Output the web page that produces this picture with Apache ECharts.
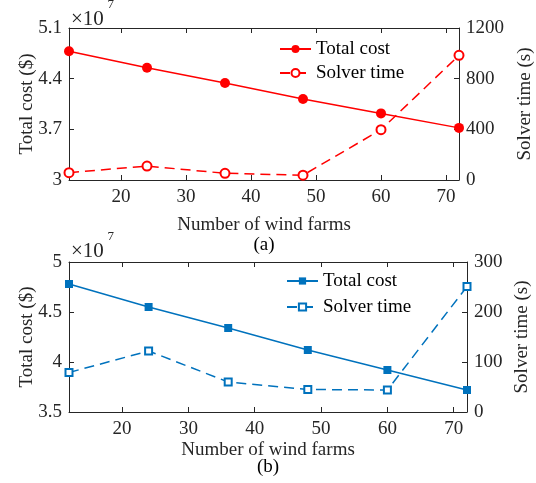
<!DOCTYPE html>
<html>
<head>
<meta charset="utf-8">
<script src="https://cdn.jsdelivr.net/npm/echarts@6/dist/echarts.min.js"></script>
<style>
html,body{margin:0;padding:0;background:#fff;}
.c{position:absolute;left:0;top:0;width:536px;height:483px;}
</style>
</head>
<body>
<div id="ca" class="c"></div>
<div id="cb" class="c"></div>
<script>
// ---- data ----
const windFarms = [12, 24, 36, 48, 60, 72];
const costA = [4.78, 4.55, 4.34, 4.12, 3.92, 3.72];      // x10^7 $
const solverA = [58, 110, 53, 38, 397, 984];             // s
const costB = [4.78, 4.55, 4.34, 4.12, 3.92, 3.72];      // x10^7 $
const solverB = [79, 122, 60, 45, 44, 251];              // s
const xTicks = [20, 30, 40, 50, 60, 70];
const yTicksCostA = [3, 3.7, 4.4, 5.1];
const yTicksTimeA = [0, 400, 800, 1200];
const yTicksCostB = [3.5, 4, 4.5, 5];
const yTicksTimeB = [0, 100, 200, 300];

const FONT = 'Liberation Serif';
const AX = '#262626';
const FS = 19;

function pairs(xs, ys) { return xs.map((x, i) => [x, ys[i]]); }
function fmt(v) { return String(+(+v).toFixed(2)); }

function xAxes(nameGap) {
  const base = {
    type: 'value', min: windFarms[0], max: windFarms[windFarms.length - 1],
    axisLine: { show: true, onZero: false, lineStyle: { color: AX, width: 1 } },
    axisTick: { show: true, inside: true, length: 5, customValues: xTicks, lineStyle: { color: AX } },
    splitLine: { show: false }
  };
  return [
    Object.assign({}, base, {
      position: 'bottom',
      axisLabel: { customValues: xTicks, color: AX, fontFamily: FONT, fontSize: FS, margin: 8, formatter: fmt },
      name: 'Number of wind farms', nameLocation: 'middle', nameGap: nameGap,
      nameTextStyle: { color: AX, fontFamily: FONT, fontSize: FS }
    }),
    Object.assign({}, base, { position: 'top', axisLabel: { show: false } })
  ];
}

function yAxis(pos, min, max, ticks, name, gap) {
  return {
    type: 'value', position: pos, min: min, max: max,
    axisLine: { show: true, onZero: false, lineStyle: { color: AX, width: 1 } },
    axisTick: { show: true, inside: true, length: 5, customValues: ticks, lineStyle: { color: AX } },
    axisLabel: { customValues: ticks, color: AX, fontFamily: FONT, fontSize: FS, margin: 7, formatter: fmt },
    splitLine: { show: false },
    name: name, nameLocation: 'middle', nameGap: gap, nameRotate: 90, nameMoveOverlap: false,
    nameTextStyle: { color: AX, fontFamily: FONT, fontSize: FS }
  };
}

function build(o) {
  return {
    backgroundColor: 'transparent',
    animation: false,
    grid: { left: o.left, top: o.top, width: o.width, height: o.height, outerBoundsMode: 'none', containLabel: false },
    xAxis: xAxes(o.xGap),
    yAxis: [
      yAxis('left', o.costMin, o.costMax, o.costTicks, 'Total cost ($)', 32),
      yAxis('right', o.timeMin, o.timeMax, o.timeTicks, 'Solver time (s)', o.rightGap)
    ],
    legend: {
      orient: 'vertical', left: o.legLeft, top: o.legTop, padding: 0,
      itemWidth: 31, itemHeight: o.legH, itemGap: o.legGap,
      textStyle: { color: '#000', fontFamily: FONT, fontSize: FS, lineHeight: 22 },
      data: ['Total cost', 'Solver time']
    },
    graphic: [
      { type: 'text', x: 71, y: o.expY, style: { text: '×10', fill: AX, fontFamily: FONT, fontSize: 21, verticalAlign: 'middle' } },
      { type: 'text', x: 107.5, y: o.expY - 14, style: { text: '7', fill: AX, fontFamily: FONT, fontSize: 13, verticalAlign: 'middle' } },
      { type: 'text', x: o.left + o.width / 2, y: o.capY, style: { text: o.cap, fill: '#000', fontFamily: FONT, fontSize: FS, align: 'center', verticalAlign: 'middle' } }
    ],
    series: [
      {
        name: 'Total cost', type: 'line', xAxisIndex: 0, yAxisIndex: 0,
        data: pairs(windFarms, o.cost), color: o.color,
        symbol: o.fullSym, symbolSize: o.fullSize, showAllSymbol: true,
        lineStyle: { width: 1.5, color: o.color }, itemStyle: { color: o.color }
      },
      {
        name: 'Solver time', type: 'line', xAxisIndex: 0, yAxisIndex: 1,
        data: pairs(windFarms, o.time), color: o.color,
        symbol: o.emptySym, symbolSize: o.emptySize, showAllSymbol: true,
        lineStyle: { width: 1.5, color: o.color, type: [10, 6] },
        itemStyle: { color: o.color, borderColor: o.color, borderWidth: 1.3 }
      }
    ]
  };
}

const ca = echarts.init(document.getElementById('ca'), null, { renderer: 'canvas' });
ca.setOption(build({
  left: 69, top: 28, width: 390, height: 152, xGap: 36,
  costMin: 3, costMax: 5.1, costTicks: yTicksCostA,
  timeMin: 0, timeMax: 1200, timeTicks: yTicksTimeA, rightGap: 57,
  legLeft: 279, legTop: 38, legH: 10, legGap: 2,
  expY: 19, capY: 245, cap: '(a)',
  cost: costA, time: solverA, color: '#ff0000',
  fullSym: 'circle', fullSize: 10, emptySym: 'emptyCircle', emptySize: 9
}));

const cb = echarts.init(document.getElementById('cb'), null, { renderer: 'canvas' });
cb.setOption(build({
  left: 69, top: 262, width: 398, height: 150, xGap: 29,
  costMin: 3.5, costMax: 5, costTicks: yTicksCostB,
  timeMin: 0, timeMax: 300, timeTicks: yTicksTimeB, rightGap: 46,
  legLeft: 286, legTop: 270, legH: 9, legGap: 4,
  expY: 251, capY: 467, cap: '(b)',
  cost: costB, time: solverB, color: '#0072BD',
  fullSym: 'rect', fullSize: 8, emptySym: 'emptyRect', emptySize: 7
}));
</script>
</body>
</html>
